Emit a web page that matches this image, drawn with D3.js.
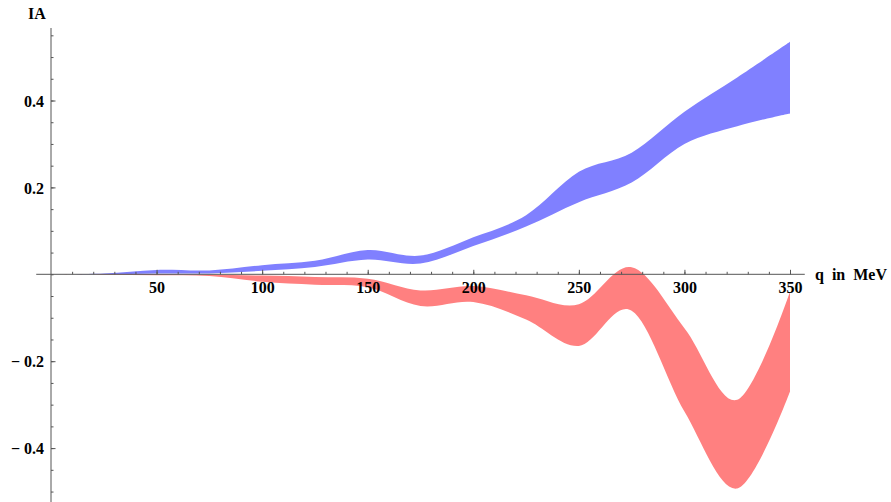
<!DOCTYPE html>
<html>
<head>
<meta charset="utf-8">
<script src="https://cdn.jsdelivr.net/npm/d3@7"></script>
<style>
  html, body { margin: 0; padding: 0; background: #fff; }
  svg { display: block; }
</style>
</head>
<body>
<svg id="chart" width="891" height="502"></svg>
<script>
// momentum transfer grid (MeV)
const q = [0, 25, 50, 75, 100, 125, 150, 175, 200, 225, 250, 275, 300, 325, 350];

// blue band: upper and lower edges
const blueUpper = [0, 0.002, 0.010, 0.009, 0.021, 0.031, 0.056, 0.043, 0.085, 0.136, 0.236, 0.280, 0.374, 0.453, 0.535];
const blueLower = [0, 0.000, 0.002, 0.002, 0.008, 0.017, 0.034, 0.025, 0.065, 0.110, 0.166, 0.211, 0.300, 0.341, 0.370];

// red band: upper and lower edges
const redUpper = [0, 0.000, 0.000, -0.001, -0.003, -0.006, -0.010, -0.037, -0.027, -0.048, -0.069, 0.016, -0.124, -0.289, -0.040];
const redLower = [0, -0.001, -0.002, -0.004, -0.017, -0.024, -0.030, -0.073, -0.064, -0.104, -0.165, -0.084, -0.316, -0.493, -0.270];

// axis ticks
const xMajor = [50, 100, 150, 200, 250, 300, 350];
const xMinor = d3.range(10, 351, 10);
const yMajor = [-0.4, -0.2, 0.2, 0.4];
const yMinor = d3.range(-0.5, 0.5501, 0.05).map(v => +v.toFixed(2));

const FONT = '"Liberation Serif", "Times New Roman", serif';

const svg = d3.select("#chart");

const x = d3.scaleLinear().domain([0, 350]).range([51, 790]);
const y = d3.scaleLinear().domain([-0.5, 0.5]).range([491.55, 57.05]);

function band(upper, lower) {
  return q.map((d, i) => ({ q: d, hi: upper[i], lo: lower[i] }));
}

const area = d3.area()
  .x(d => x(d.q))
  .y0(d => y(d.lo))
  .y1(d => y(d.hi))
  .curve(d3.curveCatmullRom.alpha(0));

svg.append("path").datum(band(blueUpper, blueLower))
  .attr("d", area).attr("fill", "#8080ff");
svg.append("path").datum(band(redUpper, redLower))
  .attr("d", area).attr("fill", "#ff8080");

const axisColor = "#555";

// x axis line, extended a little past the data range
svg.append("line")
  .attr("x1", x(-7)).attr("x2", x(357))
  .attr("y1", y(0)).attr("y2", y(0))
  .attr("stroke", axisColor).attr("stroke-width", 1);

// y axis line
svg.append("line")
  .attr("x1", x(0)).attr("x2", x(0))
  .attr("y1", 28).attr("y2", 502)
  .attr("stroke", axisColor).attr("stroke-width", 1);

// x minor ticks
const gxMinor = svg.append("g").attr("transform", `translate(0,${y(0)})`)
  .call(d3.axisBottom(x).tickValues(xMinor).tickSizeInner(-2.5).tickSizeOuter(0).tickFormat(""));
// x major ticks with labels
const gx = svg.append("g").attr("transform", `translate(0,${y(0)})`)
  .call(d3.axisBottom(x).tickValues(xMajor).tickSizeInner(-4.5).tickSizeOuter(0).tickPadding(7).tickFormat(d3.format("d")));

// y minor ticks
const gyMinor = svg.append("g").attr("transform", `translate(${x(0)},0)`)
  .call(d3.axisLeft(y).tickValues(yMinor).tickSizeInner(-2.5).tickSizeOuter(0).tickFormat(""));
// y major ticks with labels
const fmtY = v => (v < 0 ? "\u2212 " : "") + d3.format(".1f")(Math.abs(v));
const gy = svg.append("g").attr("transform", `translate(${x(0)},0)`)
  .call(d3.axisLeft(y).tickValues(yMajor).tickSizeInner(-4.5).tickSizeOuter(0).tickPadding(7).tickFormat(fmtY));

[gxMinor, gx, gyMinor, gy].forEach(g => {
  g.select(".domain").remove();
  g.selectAll(".tick line").attr("stroke", axisColor);
  g.selectAll(".tick text")
    .style("font-family", FONT)
    .style("font-weight", "bold")
    .style("font-size", "16px")
    .attr("fill", "#000");
});
gx.selectAll(".tick text").attr("dy", "0.71em");
gy.selectAll(".tick text").attr("dy", "0.35em");

// axis titles
svg.append("text")
  .attr("x", 28).attr("y", 19)
  .style("font-family", FONT).style("font-weight", "bold").style("font-size", "16px")
  .text("IA");
svg.append("text")
  .attr("x", 815).attr("y", 280)
  .style("font-family", FONT).style("font-weight", "bold").style("font-size", "16px")
  .style("white-space", "pre")
  .text("q  in  MeV");
</script>
</body>
</html>
